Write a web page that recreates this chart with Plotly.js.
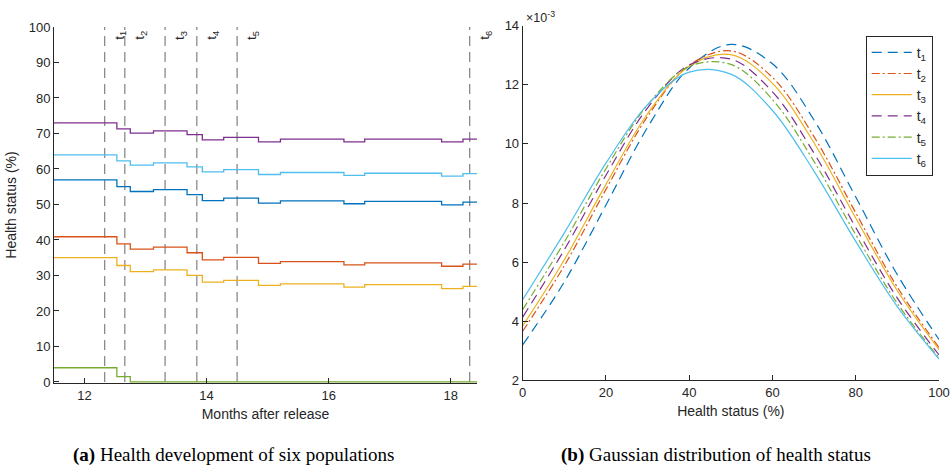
<!DOCTYPE html>
<html>
<head>
<meta charset="utf-8">
<script src="https://cdn.plot.ly/plotly-3.0.1.min.js"></script>
<style>
html,body{margin:0;padding:0;background:#fff;}
#chart{width:952px;height:470px;}
</style>
</head>
<body>
<div id="chart"></div>
<script>
// ---------- Panel (a): health development of six populations ----------
var stepMonths = [11.5, 12.53, 12.75, 13.13, 13.68, 13.93, 14.28, 14.85, 15.21, 16.25, 16.59, 17.85, 18.20];
var endMonth = 18.43;
var popPurple = [73.0, 71.3, 70.1, 70.75, 69.7, 68.2, 68.9, 67.65, 68.4, 67.65, 68.4, 67.65, 68.4];
var popCyan   = [64.0, 62.3, 61.1, 61.7, 60.6, 59.2, 59.8, 58.45, 59.0, 58.2, 58.8, 58.0, 58.7];
var popBlue   = [56.95, 55.0, 53.65, 54.2, 52.8, 51.1, 51.8, 50.4, 51.0, 50.2, 50.85, 49.9, 50.65];
var popRed    = [40.9, 38.9, 37.4, 38.0, 36.4, 34.4, 35.1, 33.4, 33.9, 33.0, 33.55, 32.6, 33.2];
var popYellow = [35.0, 32.8, 31.1, 31.6, 30.0, 28.1, 28.6, 27.2, 27.65, 26.7, 27.4, 26.3, 26.9];
var popGreen  = [4.0, 1.5, 0, 0, 0, 0, 0, 0, 0, 0, 0, 0, 0];
var eventMonths = [12.33, 12.66, 13.32, 13.84, 14.5, 18.31];
var eventLabels = ['t<sub>1</sub>', 't<sub>2</sub>', 't<sub>3</sub>', 't<sub>4</sub>', 't<sub>5</sub>', 't<sub>6</sub>'];

// ---------- Panel (b): Gaussian distribution of health status (values in 1e-3) ----------
var healthX = [0, 10, 20, 30, 40, 50, 60, 70, 80, 90, 100];
var gT1 = [3.20, 5.33, 7.93, 10.56, 12.57, 13.37, 12.71, 10.80, 8.20, 5.57, 3.38];
var gT2 = [3.66, 5.88, 8.46, 10.93, 12.66, 13.15, 12.25, 10.24, 7.67, 5.15, 3.11];
var gT3 = [3.84, 6.08, 8.63, 11.02, 12.63, 13.02, 12.05, 10.03, 7.49, 5.03, 3.04];
var gT4 = [4.14, 6.42, 8.94, 11.22, 12.67, 12.87, 11.76, 9.68, 7.17, 4.78, 2.86];
var gT5 = [4.39, 6.68, 9.16, 11.32, 12.62, 12.69, 11.50, 9.40, 6.93, 4.60, 2.76];
var gT6 = [4.73, 6.99, 9.35, 11.33, 12.43, 12.36, 11.13, 9.07, 6.70, 4.49, 2.72];
var seriesNames = ['t<sub>1</sub>', 't<sub>2</sub>', 't<sub>3</sub>', 't<sub>4</sub>', 't<sub>5</sub>', 't<sub>6</sub>'];

var C = {blue:'#0072BD', red:'#D95319', yellow:'#EDB120', purple:'#7E2F8E', green:'#77AC30', cyan:'#4DBEEE'};
var axisCol = '#262626';

var traces = [];
// vertical event lines
eventMonths.forEach(function(m){
  traces.push({x:[m,m], y:[0,100], xaxis:'x', yaxis:'y', mode:'lines', showlegend:false, hoverinfo:'skip',
    line:{color:'#8a8a8a', width:1.3, dash:'10px,6px'}});
});
function stepTrace(vals, col){
  return {x: stepMonths.concat([endMonth]), y: vals.concat([vals[vals.length-1]]),
    xaxis:'x', yaxis:'y', mode:'lines', line:{color:col, width:1.3, shape:'hv'}, showlegend:false};
}
traces.push(stepTrace(popPurple, C.purple));
traces.push(stepTrace(popCyan, C.cyan));
traces.push(stepTrace(popBlue, C.blue));
traces.push(stepTrace(popRed, C.red));
traces.push(stepTrace(popYellow, C.yellow));
traces.push(stepTrace(popGreen, C.green));

var gData = [gT1, gT2, gT3, gT4, gT5, gT6];
var gCols = [C.blue, C.red, C.yellow, C.purple, C.green, C.cyan];
var gDash = ['10px,6px', '8px,3px,2px,3px', 'solid', '10px,6px', '8px,3px,2px,3px', 'solid'];
gData.forEach(function(d, i){
  traces.push({x: healthX, y: d, xaxis:'x2', yaxis:'y2', mode:'lines', name: seriesNames[i],
    line:{color:gCols[i], width:1.2, dash:gDash[i], shape:'spline', smoothing:1.0}});
});

var annotations = eventMonths.map(function(m, i){
  return {x:m, y:100, xref:'x', yref:'y', text:eventLabels[i], showarrow:false, textangle:-90,
    xanchor:'left', yanchor:'top', xshift:5, yshift:-2, font:{family:'Liberation Sans, Arial', size:13.5, color:axisCol}};
});
annotations.push({xref:'paper', yref:'paper', x:524/952, y:1-7/470, xanchor:'left', yanchor:'top',
  text:'×10<sup>-3</sup>', showarrow:false, font:{family:'Liberation Sans, Arial', size:12.5, color:axisCol}});
annotations.push({xref:'paper', yref:'paper', x:233/952, y:1-455/470, xanchor:'center', yanchor:'middle',
  text:'<b>(a)</b> Health development of six populations', showarrow:false,
  font:{family:'Liberation Serif, Times New Roman, serif', size:19, color:'#000'}});
annotations.push({xref:'paper', yref:'paper', x:716/952, y:1-455/470, xanchor:'center', yanchor:'middle',
  text:'<b>(b)</b> Gaussian distribution of health status', showarrow:false,
  font:{family:'Liberation Serif, Times New Roman, serif', size:19, color:'#000'}});

var tickFont = {family:'Liberation Sans, Arial', size:13, color:axisCol};
var titleFont = {family:'Liberation Sans, Arial', size:14, color:axisCol};

var layout = {
  width:952, height:470, margin:{l:0, r:0, t:0, b:0},
  paper_bgcolor:'#fff', plot_bgcolor:'#fff',
  showlegend:true,
  font:{family:'Liberation Sans, Arial', color:axisCol},
  xaxis:{domain:[54/952, 477/952], range:[11.5, 18.43], anchor:'y', tickvals:[12,14,16,18],
    ticks:'inside', ticklen:5, tickcolor:axisCol, showline:true, linecolor:axisCol, linewidth:1,
    showgrid:false, zeroline:false, tickfont:tickFont,
    title:{text:'Months after release', font:titleFont, standoff:7}},
  yaxis:{domain:[1-383/470, 1-27/470], range:[-0.3,100], anchor:'x', tickvals:[0,10,20,30,40,50,60,70,80,90,100],
    ticks:'inside', ticklen:5, tickcolor:axisCol, showline:true, linecolor:axisCol, linewidth:1,
    showgrid:false, zeroline:false, tickfont:tickFont,
    title:{text:'Health status (%)', font:titleFont, standoff:8}},
  xaxis2:{domain:[522.7/952, 939/952], range:[0,100], anchor:'y2', dtick:20,
    ticks:'inside', ticklen:5, tickcolor:axisCol, showline:true, linecolor:axisCol, linewidth:1,
    showgrid:false, zeroline:false, tickfont:tickFont,
    title:{text:'Health status (%)', font:titleFont, standoff:7}},
  yaxis2:{domain:[1-380.3/470, 1-25.7/470], range:[2,14], anchor:'x2', dtick:2,
    ticks:'inside', ticklen:5, tickcolor:axisCol, showline:true, linecolor:axisCol, linewidth:1,
    showgrid:false, zeroline:false, tickfont:tickFont},
  legend:{x:865.7/952, y:1-35.7/470, xanchor:'left', yanchor:'top', bgcolor:'#fff',
    bordercolor:'#262626', borderwidth:1, itemwidth:40, tracegroupgap:0,
    font:{family:'Liberation Sans, Arial', size:14, color:axisCol}},
  annotations: annotations
};

Plotly.newPlot('chart', traces, layout, {displayModeBar:false, staticPlot:true});
</script>
</body>
</html>
